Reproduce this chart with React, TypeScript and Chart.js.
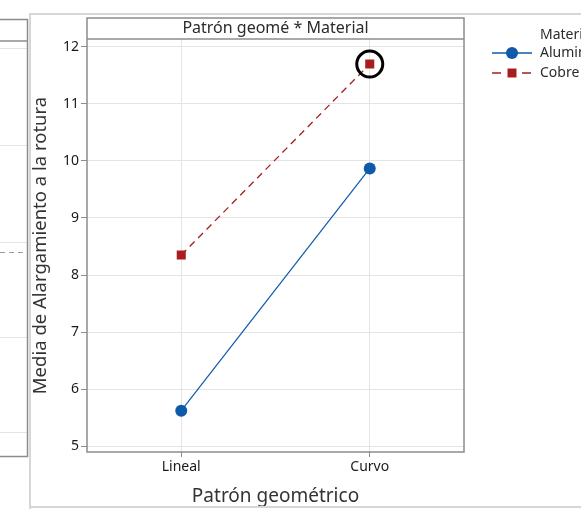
import React, { useEffect, useRef } from 'react';
import { Chart, registerables } from 'chart.js';

Chart.register(...registerables);

// ---- data ----
const categories = ['Lineal', 'Curvo'];
const seriesNames = ['Aluminio', 'Cobre'];
const aluminio = [5.62, 9.87];
const cobre = [8.35, 11.7];
const highlightIndex = 1; // circled point (Cobre, Curvo)
const yTicks = [5, 6, 7, 8, 9, 10, 11, 12];
const legendTitle = 'Material';
const panelTitle = 'Patrón geomé * Material';
const xTitle = 'Patrón geométrico';
const yTitle = 'Media de Alargamiento a la rotura';

const FONT = "'Segoe UI', 'Noto Sans', 'Open Sans', sans-serif";
const BLUE = '#0d5aab';
const RED = '#a81e1e';
const GRID = '#e4e4e4';
const FRAME = '#8c8c8c';
const TEXT = '#2b2b2b';
const CANVAS_W = 640;
const CANVAS_H = 509;

const framePlugin = {
  id: 'minitabFrame',
  beforeDraw(chart: any) {
    const { ctx, chartArea: a } = chart;
    ctx.save();
    ctx.fillStyle = '#ffffff';
    ctx.fillRect(0, 0, chart.width, chart.height);

    // neighbouring (cut-off) panel on the left
    ctx.strokeStyle = GRID;
    ctx.lineWidth = 1;
    [48, 145, 242, 337, 432].forEach((y) => {
      ctx.beginPath();
      ctx.moveTo(0, y + 0.5);
      ctx.lineTo(27, y + 0.5);
      ctx.stroke();
    });
    ctx.strokeStyle = '#9a9a9a';
    ctx.setLineDash([5, 4]);
    ctx.beginPath();
    ctx.moveTo(0, 252.5);
    ctx.lineTo(27, 252.5);
    ctx.stroke();
    ctx.setLineDash([]);
    ctx.strokeStyle = FRAME;
    ctx.lineWidth = 1.5;
    ctx.strokeRect(-5, 19.5, 32.5, 437);
    ctx.beginPath();
    ctx.moveTo(0, 41);
    ctx.lineTo(27, 41);
    ctx.stroke();

    // outer panel of this graph
    ctx.strokeStyle = '#d6d6d6';
    ctx.lineWidth = 2;
    ctx.beginPath();
    ctx.moveTo(30, 509);
    ctx.lineTo(30, 14);
    ctx.lineTo(chart.width, 14);
    ctx.stroke();

    // header strip
    ctx.fillStyle = '#ffffff';
    ctx.fillRect(a.left, 18, a.right - a.left, a.top - 18);
    ctx.fillStyle = TEXT;
    ctx.font = `16px ${FONT}`;
    ctx.textAlign = 'center';
    ctx.textBaseline = 'middle';
    ctx.fillText(panelTitle, (a.left + a.right) / 2, 28.5);
    ctx.restore();
  },
  afterDraw(chart: any) {
    const { ctx, chartArea: a } = chart;
    ctx.save();
    // plot + header border
    ctx.strokeStyle = FRAME;
    ctx.lineWidth = 1.5;
    ctx.strokeRect(a.left, 18, a.right - a.left, a.bottom - 18);
    ctx.beginPath();
    ctx.moveTo(a.left, a.top);
    ctx.lineTo(a.right, a.top);
    ctx.stroke();

    // bottom edge of the outer panel
    ctx.fillStyle = '#ffffff';
    ctx.fillRect(31, 506, chart.width, 4);
    ctx.strokeStyle = '#d6d6d6';
    ctx.lineWidth = 2;
    ctx.beginPath();
    ctx.moveTo(30, 507);
    ctx.lineTo(chart.width, 507);
    ctx.stroke();

    // legend (series datasets only)
    const ds = chart.data.datasets.filter((d: any) => seriesNames.includes(d.label));
    ctx.font = `14px ${FONT}`;
    ctx.textAlign = 'left';
    ctx.textBaseline = 'middle';
    ctx.fillStyle = TEXT;
    ctx.fillText(legendTitle, 540, 35);
    const rows = [53, 73];
    ds.forEach((d: any, i: number) => {
      const y = rows[i];
      ctx.strokeStyle = d.borderColor;
      ctx.lineWidth = 1.3;
      ctx.beginPath();
      if (d.borderDash && d.borderDash.length) {
        ctx.moveTo(492, y);
        ctx.lineTo(501, y);
        ctx.moveTo(522, y);
        ctx.lineTo(531, y);
      } else {
        ctx.moveTo(492, y);
        ctx.lineTo(532, y);
      }
      ctx.stroke();
      ctx.fillStyle = d.pointBackgroundColor;
      if (d.pointStyle === 'rect') {
        ctx.fillRect(507.5, y - 4.5, 9, 9);
      } else {
        ctx.beginPath();
        ctx.arc(512, y, 6, 0, Math.PI * 2);
        ctx.fill();
      }
      ctx.fillStyle = TEXT;
      ctx.fillText(d.label, 540, y);
    });
    ctx.restore();
  },
};

export default function App() {
  const ref = useRef<HTMLCanvasElement>(null);

  useEffect(() => {
    if (!ref.current) return;
    const highlight = cobre.map((v, i) => (i === highlightIndex ? v : null));
    const chart = new Chart(ref.current, {
      type: 'line',
      data: {
        labels: categories,
        datasets: [
          {
            label: 'highlight',
            data: highlight,
            showLine: false,
            pointStyle: 'circle',
            pointRadius: 13,
            pointBorderWidth: 3,
            pointBorderColor: '#000000',
            pointBackgroundColor: 'rgba(0,0,0,0)',
            borderColor: 'rgba(0,0,0,0)',
          } as any,
          {
            label: seriesNames[0],
            data: aluminio,
            borderColor: BLUE,
            backgroundColor: BLUE,
            pointBackgroundColor: BLUE,
            pointBorderColor: BLUE,
            pointBorderWidth: 0,
            pointStyle: 'circle',
            pointRadius: 6,
            borderWidth: 1.2,
          },
          {
            label: seriesNames[1],
            data: cobre,
            borderColor: RED,
            backgroundColor: RED,
            pointBackgroundColor: RED,
            pointBorderColor: RED,
            pointBorderWidth: 0,
            pointStyle: 'rect',
            pointRadius: 6.4,
            borderWidth: 1.3,
            borderDash: [7, 5],
          },
        ],
      },
      options: {
        responsive: false,
        animation: false,
        layout: { padding: { left: 30, top: 39, right: CANVAS_W - 464, bottom: 0 } },
        plugins: { legend: { display: false }, tooltip: { enabled: false } },
        scales: {
          x: {
            type: 'category',
            offset: true,
            grid: { color: GRID, lineWidth: 1, tickColor: FRAME, tickLength: 5 },
            border: { display: false },
            ticks: { color: '#1a1a1a', font: { family: FONT, size: 14 }, padding: 2 },
            title: {
              display: true,
              text: xTitle,
              color: '#333333',
              font: { family: FONT, size: 19 },
              padding: { top: 0, bottom: 1 },
            },
            afterFit: (s: any) => {
              s.height = 57;
            },
          },
          y: {
            type: 'linear',
            min: 4.895,
            max: 12.14,
            afterBuildTicks: (s: any) => {
              s.ticks = yTicks.map((v) => ({ value: v }));
            },
            grid: { color: GRID, lineWidth: 1, tickColor: FRAME, tickLength: 6 },
            border: { display: false },
            ticks: { color: '#1a1a1a', font: { family: FONT, size: 14 }, padding: 2 },
            title: {
              display: true,
              text: yTitle,
              color: '#333333',
              font: { family: FONT, size: 18.5 },
              padding: { top: 0, bottom: 0 },
            },
            afterFit: (s: any) => {
              s.width = 57;
            },
          },
        },
      },
      plugins: [framePlugin],
    });
    return () => chart.destroy();
  }, []);

  return (
    <div
      style={{
        position: 'fixed',
        left: 0,
        top: 0,
        width: 581,
        height: 509,
        overflow: 'hidden',
        background: '#ffffff',
      }}
    >
      <canvas ref={ref} width={CANVAS_W} height={CANVAS_H} style={{ display: 'block' }} />
    </div>
  );
}
